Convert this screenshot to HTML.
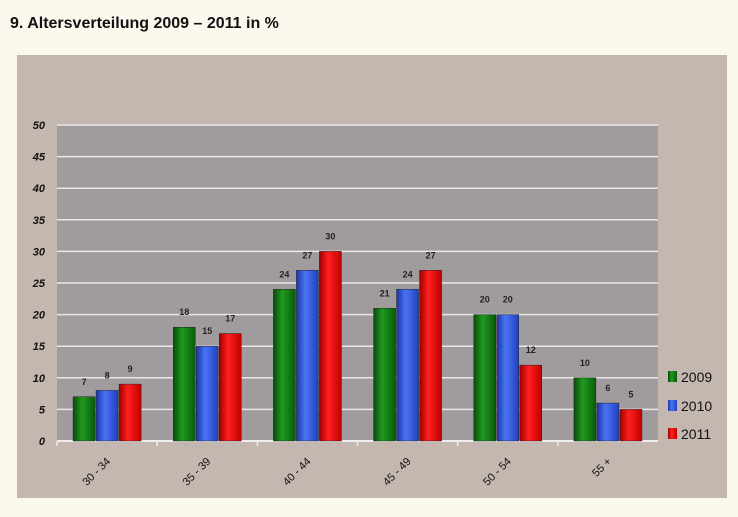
<!DOCTYPE html>
<html><head><meta charset="utf-8"><style>
body{margin:0;width:738px;height:512px;background:#fbf8ee;font-family:"Liberation Sans",sans-serif;overflow:hidden}
</style></head><body>
<svg width="738" height="512">
<defs>
<linearGradient id="gG" x1="0" x2="1"><stop offset="0" stop-color="#0b4a0b"/><stop offset="0.4" stop-color="#1f9a1f"/><stop offset="1" stop-color="#0a5a0a"/></linearGradient>
<linearGradient id="gB" x1="0" x2="1"><stop offset="0" stop-color="#1a35a8"/><stop offset="0.4" stop-color="#4a74f4"/><stop offset="1" stop-color="#2040c0"/></linearGradient>
<linearGradient id="gR" x1="0" x2="1"><stop offset="0" stop-color="#a00000"/><stop offset="0.4" stop-color="#ff2020"/><stop offset="1" stop-color="#c00000"/></linearGradient>
</defs>
<text x="10" y="28" font-size="16" font-weight="bold" fill="#111">9.  Altersverteilung 2009 – 2011 in %</text>
<rect x="17" y="55" width="710" height="443" fill="#c3b7b0"/>
<rect x="57" y="125" width="601" height="316" fill="#a09c9e"/>
<g id="grid"></g><g id="bars"></g><g id="labels"></g>
<g font-size="14" fill="#111">
<rect x="668" y="371" width="9" height="11" fill="url(#gG)"/><text x="681" y="382">2009</text>
<rect x="668" y="400" width="9" height="11" fill="url(#gB)"/><text x="681" y="411">2010</text>
<rect x="668" y="428" width="9" height="11" fill="url(#gR)"/><text x="681" y="439">2011</text>
</g>
</svg>
<script>
const categories=["30 - 34","35 - 39","40 - 44","45 - 49","50 - 54","55 +"];
const s2009=[7,18,24,21,20,10];
const s2010=[8,15,27,24,20,6];
const s2011=[9,17,30,27,12,5];
const yTicks=[0,5,10,15,20,25,30,35,40,45,50];
const NS="http://www.w3.org/2000/svg";
const x0=57,x1=658,y0=441,y1=125,yMax=50;
const bw=(x1-x0)/categories.length;
function y(v){return y0-(v/yMax)*(y0-y1);}
function cx(i){return x0+bw*(i+0.5);}
function mk(t,a,p){const e=document.createElementNS(NS,t);for(const k in a)e.setAttribute(k,a[k]);p.appendChild(e);return e;}
const grid=document.getElementById('grid'),bars=document.getElementById('bars'),labels=document.getElementById('labels');
yTicks.forEach(v=>{
 if(v>0){const l=mk('line',{x1:x0,x2:x1,y1:y(v),y2:y(v),stroke:'#e8e8e8','stroke-width':1.5},grid);
 
 }
 const t=mk('text',{x:45,y:y(v)+4,'text-anchor':'end','font-size':11,'font-weight':'bold','font-style':'italic',fill:'#111'},labels);
 t.textContent=v;
 
 
});
const ax=mk('line',{x1:x0,x2:x1,y1:y0,y2:y0,stroke:'#eee','stroke-width':2},grid);


const series=[[s2009,'url(#gG)','2009'],[s2010,'url(#gB)','2010'],[s2011,'url(#gR)','2011']];
categories.forEach((c,i)=>{
 series.forEach((s,j)=>{
  const v=s[0][i],bx=cx(i)-34+j*23;
  const r=mk('rect',{x:bx,y:y(v),width:22,height:y0-y(v),fill:s[1],stroke:'#222','stroke-width':0.5},bars);
  
  
  const t=mk('text',{x:bx+11,y:y(v)-12,'text-anchor':'middle','font-size':9,'font-weight':'bold',fill:'#222'},labels);
  t.textContent=v;
  
  
 });
 const tx=cx(i)+4,ty=462;
 const t=mk('text',{x:tx,y:ty,'text-anchor':'end','font-size':11,fill:'#111',transform:'rotate(-45 '+tx+' '+ty+')'},labels);
 t.textContent=c;
 
 
 const tk=mk('line',{x1:x0+bw*i,x2:x0+bw*i,y1:y0,y2:y0+5,stroke:'#eee','stroke-width':1.5},grid);
 
 
});
</script>
</body></html>
